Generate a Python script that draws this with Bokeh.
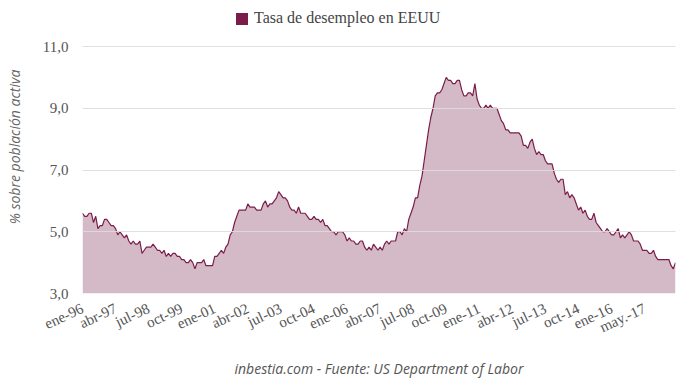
from bokeh.plotting import figure
from bokeh.models import ColumnDataSource, Legend, LegendItem, Range1d, FixedTicker
from bokeh.embed import file_html
from bokeh.resources import INLINE
import math

# US unemployment rate, monthly, ene-96 .. jun-18 (%)
y1996 = [5.6, 5.5, 5.5, 5.6, 5.6, 5.3, 5.5, 5.1, 5.2, 5.2, 5.4, 5.4]
y1997 = [5.3, 5.2, 5.2, 5.1, 4.9, 5.0, 4.9, 4.8, 4.9, 4.7, 4.6, 4.7]
y1998 = [4.6, 4.6, 4.7, 4.3, 4.4, 4.5, 4.5, 4.5, 4.6, 4.5, 4.4, 4.4]
y1999 = [4.3, 4.4, 4.2, 4.3, 4.2, 4.3, 4.3, 4.2, 4.2, 4.1, 4.1, 4.0]
y2000 = [4.0, 4.1, 4.0, 3.8, 4.0, 4.0, 4.0, 4.1, 3.9, 3.9, 3.9, 3.9]
y2001 = [4.2, 4.2, 4.3, 4.4, 4.3, 4.5, 4.6, 4.9, 5.0, 5.3, 5.5, 5.7]
y2002 = [5.7, 5.7, 5.7, 5.9, 5.8, 5.8, 5.8, 5.7, 5.7, 5.7, 5.9, 6.0]
y2003 = [5.8, 5.9, 5.9, 6.0, 6.1, 6.3, 6.2, 6.1, 6.1, 6.0, 5.8, 5.7]
y2004 = [5.7, 5.6, 5.8, 5.6, 5.6, 5.6, 5.5, 5.4, 5.4, 5.5, 5.4, 5.4]
y2005 = [5.3, 5.4, 5.2, 5.2, 5.1, 5.0, 5.0, 4.9, 5.0, 5.0, 5.0, 4.9]
y2006 = [4.7, 4.8, 4.7, 4.7, 4.6, 4.6, 4.7, 4.7, 4.5, 4.4, 4.5, 4.4]
y2007 = [4.6, 4.5, 4.4, 4.5, 4.4, 4.6, 4.7, 4.6, 4.7, 4.7, 4.7, 5.0]
y2008 = [5.0, 4.9, 5.1, 5.0, 5.4, 5.6, 5.8, 6.1, 6.1, 6.5, 6.8, 7.3]
y2009 = [7.8, 8.3, 8.7, 9.0, 9.4, 9.5, 9.5, 9.6, 9.8, 10.0, 9.9, 9.9]
y2010 = [9.8, 9.8, 9.9, 9.9, 9.6, 9.4, 9.4, 9.5, 9.5, 9.4, 9.8, 9.3]
y2011 = [9.1, 9.0, 9.0, 9.1, 9.0, 9.1, 9.0, 9.0, 9.0, 8.8, 8.6, 8.5]
y2012 = [8.3, 8.3, 8.2, 8.2, 8.2, 8.2, 8.2, 8.1, 7.8, 7.8, 7.7, 7.9]
y2013 = [8.0, 7.7, 7.5, 7.6, 7.5, 7.5, 7.3, 7.2, 7.2, 7.2, 6.9, 6.7]
y2014 = [6.6, 6.7, 6.7, 6.2, 6.3, 6.1, 6.2, 6.1, 5.9, 5.7, 5.8, 5.6]
y2015 = [5.7, 5.5, 5.4, 5.4, 5.6, 5.3, 5.2, 5.1, 5.0, 5.0, 5.1, 5.0]
y2016 = [4.9, 4.9, 5.0, 5.1, 4.8, 4.9, 4.8, 4.9, 5.0, 4.9, 4.7, 4.7]
y2017 = [4.7, 4.6, 4.4, 4.4, 4.4, 4.3, 4.3, 4.4, 4.2, 4.1, 4.1, 4.1]
y2018 = [4.1, 4.1, 4.1, 3.9, 3.8, 4.0]

tick_labels = ["ene-96", "abr-97", "jul-98", "oct-99", "ene-01", "abr-02",
               "jul-03", "oct-04", "ene-06", "abr-07", "jul-08", "oct-09",
               "ene-11", "abr-12", "jul-13", "oct-14", "ene-16", "may.-17"]
tick_step = 15  # months between labelled categories

series_name = "Tasa de desempleo en EEUU"
y_ticks = [3, 5, 7, 9, 11]

values = (y1996 + y1997 + y1998 + y1999 + y2000 + y2001 + y2002 + y2003 + y2004
          + y2005 + y2006 + y2007 + y2008 + y2009 + y2010 + y2011 + y2012
          + y2013 + y2014 + y2015 + y2016 + y2017 + y2018)
idx = list(range(len(values)))
base = [y_ticks[0]] * len(values)
src = ColumnDataSource(dict(x=idx, y=values, base=base))

LINE = "#7b1d4b"
FILL = "#d4b9c6"
SERIF = "Liberation Serif"
SANS = "Open Sans"

# plot area: value axis occupies 247 px; 46 px of headroom above it hold the legend
AXIS_PX, HEAD_PX = 247, 46
y_lo, y_hi = y_ticks[0], y_ticks[-1]
y_top = y_hi + (y_hi - y_lo) * HEAD_PX / AXIS_PX

p = figure(frame_width=593, frame_height=AXIS_PX + HEAD_PX, output_backend="svg",
           toolbar_location=None,
           x_range=Range1d(0, len(values) - 1), y_range=Range1d(y_lo, y_top),
           min_border_left=82, min_border_right=5, min_border_top=0, min_border_bottom=89)
p.outline_line_color = None
p.background_fill_color = "white"
p.border_fill_color = "white"

p.varea(x="x", y1="base", y2="y", source=src, fill_color=FILL, fill_alpha=1)
p.line(x="x", y="y", source=src, line_color=LINE, line_width=1.2)

# legend swatch renderer: a zero-size quad on the baseline (draws nothing in the plot)
sw = p.quad(left=idx[:1], right=idx[:1], top=base[:1], bottom=base[:1],
            fill_color=LINE, line_color=None)
legend = Legend(items=[LegendItem(label=series_name, renderers=[sw])],
                location=(152, 266), orientation="horizontal",
                glyph_width=15, glyph_height=15, label_standoff=5,
                padding=0, margin=0, spacing=0, border_line_color=None,
                background_fill_alpha=0,
                label_text_font=SERIF, label_text_font_size="16px",
                label_text_color="#444444")
p.add_layout(legend, "center")

# y axis
p.yaxis.ticker = FixedTicker(ticks=y_ticks)
p.yaxis.major_label_overrides = {t: f"{t},0" for t in y_ticks}
p.yaxis.axis_line_color = None
p.yaxis.major_tick_line_color = None
p.yaxis.minor_tick_line_color = None
p.yaxis.major_label_standoff = 8
p.yaxis.major_label_text_font = SERIF
p.yaxis.major_label_text_font_size = "15px"
p.yaxis.major_label_text_color = "#555555"
p.yaxis.axis_label = "% sobre población activa"
p.yaxis.axis_label_text_font = SANS
p.yaxis.axis_label_text_font_style = "italic"
p.yaxis.axis_label_text_font_size = "14px"
p.yaxis.axis_label_text_color = "#666666"
p.yaxis.axis_label_standoff = 16

# x axis
xt = [i * tick_step for i in range(len(tick_labels))]
p.xaxis.ticker = FixedTicker(ticks=xt)
p.xaxis.major_label_overrides = {t: l for t, l in zip(xt, tick_labels)}
p.xaxis.major_label_orientation = math.radians(25)
p.xaxis.axis_line_color = None
p.xaxis.major_tick_line_color = None
p.xaxis.minor_tick_line_color = None
p.xaxis.major_label_standoff = 8
p.xaxis.major_label_text_font = SERIF
p.xaxis.major_label_text_font_size = "15px"
p.xaxis.major_label_text_color = "#555555"
p.xaxis.axis_label = "inbestia.com - Fuente: US Department of Labor"
p.xaxis.axis_label_text_font = SANS
p.xaxis.axis_label_text_font_style = "italic"
p.xaxis.axis_label_text_font_size = "14px"
p.xaxis.axis_label_text_color = "#555555"
p.xaxis.axis_label_standoff = 13

p.xgrid.grid_line_color = None
p.ygrid.ticker = FixedTicker(ticks=y_ticks)
p.ygrid.grid_line_color = "#dddddd"
p.ygrid.grid_line_width = 1
p.ygrid.level = "overlay"
p.ygrid.grid_line_alpha = 0.9

open("out.html", "w").write(file_html(p, INLINE))
